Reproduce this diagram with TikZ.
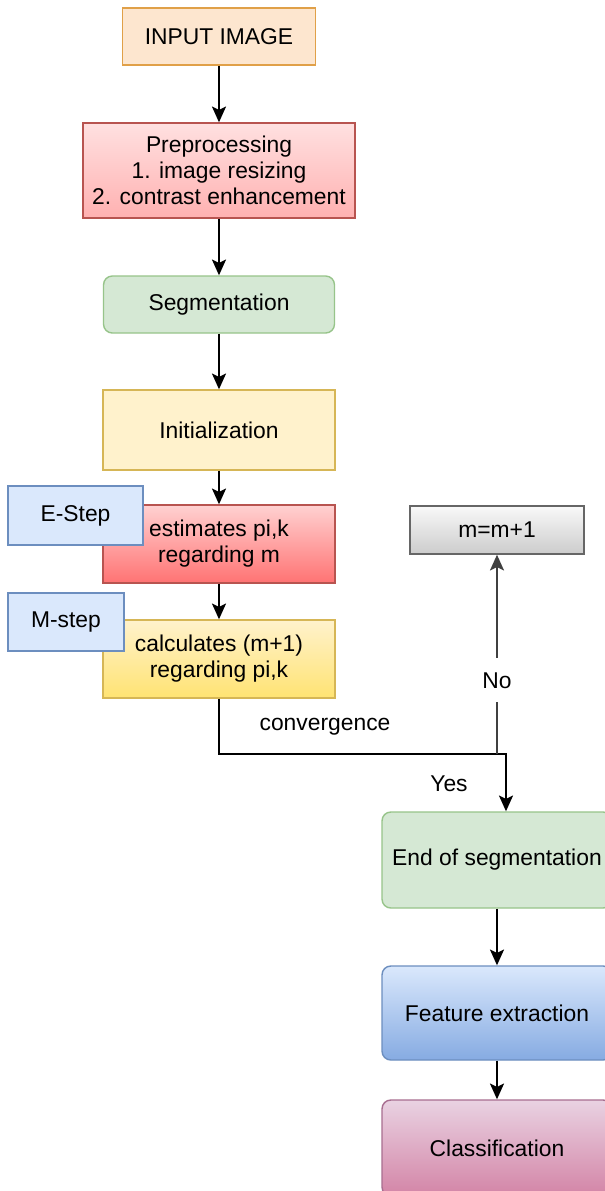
\documentclass[tikz,border=0pt]{standalone}
\usepackage{fontspec}
\setmainfont{Liberation Sans}
\usetikzlibrary{arrows.meta}

\definecolor{peachfill}{HTML}{FDE6CF}
\definecolor{peachline}{HTML}{E0A048}
\definecolor{redline}{HTML}{B85450}
\definecolor{greenfill}{HTML}{D5E8D4}
\definecolor{greenline}{HTML}{97C48A}
\definecolor{yellowfill}{HTML}{FFF2CC}
\definecolor{yellowline}{HTML}{D6B656}
\definecolor{bluefill}{HTML}{DAE8FC}
\definecolor{bluedeep}{HTML}{86ABE2}
\definecolor{blueline}{HTML}{6C8EBF}
\definecolor{pinkfill}{HTML}{E9D2E2}
\definecolor{pinkdeep}{HTML}{D384A6}
\definecolor{pinkline}{HTML}{A86E90}

\begin{document}
\begin{tikzpicture}[x=0.02cm,y=-0.02cm,>={Stealth[length=9pt,width=8pt,inset=2pt]},
  flowbox/.style={draw,line width=0.8pt,align=center,inner sep=0pt,
    font=\fontsize{13}{14.8}\selectfont},
  roundbox/.style={flowbox,rounded corners=5pt},
  stepbox/.style={flowbox,fill=bluefill,draw=blueline},
  link/.style={->,line width=1.1pt}]

\fill[white] (0,0) rectangle (605,1191);
\useasboundingbox (0,0) rectangle (605,1191);

%--------------------
% main column
%--------------------
\node[flowbox,fill=peachfill,draw=peachline,minimum width=3.86cm,minimum height=1.14cm]
  (input) at (219,36.5) {INPUT IMAGE};
\node[flowbox,top color=red!12,bottom color=red!25!pink!70,draw=redline,
  minimum width=5.44cm,minimum height=1.9cm]
  (prep) at (219,170.5) {Preprocessing\\1. image resizing\\2. contrast enhancement};
\node[roundbox,fill=greenfill,draw=greenline,minimum width=4.62cm,minimum height=1.14cm]
  (seg) at (219,304.5) {Segmentation};
\node[flowbox,fill=yellowfill,draw=yellowline,minimum width=4.64cm,minimum height=1.6cm]
  (init) at (219,430) {Initialization};

% E-step and M-step
\node[flowbox,top color=red!18,bottom color=red!55!white,draw=redline,
  minimum width=4.64cm,minimum height=1.56cm]
  (est) at (219,544) {estimates pi,k\\regarding m};
\node[stepbox,minimum width=2.7cm,minimum height=1.18cm] (estep) at (75.5,515.5) {E-Step};

\node[flowbox,top color=yellowfill,bottom color=yellow!60!orange!55,draw=yellowline,
  minimum width=4.64cm,minimum height=1.56cm]
  (calc) at (219,659) {calculates (m+1)\\regarding pi,k};
\node[stepbox,minimum width=2.32cm,minimum height=1.16cm] (mstep) at (66,622) {M-step};

% update
\node[flowbox,top color=gray!5,bottom color=gray!40,draw=gray!80!black,
  minimum width=3.48cm,minimum height=0.96cm]
  (upd) at (497,530) {m=m+1};

%--------------------
% right column
%--------------------
\node[roundbox,fill=greenfill,draw=greenline,minimum width=4.6cm,minimum height=1.92cm]
  (endseg) at (497,860) {End of segmentation};
\node[roundbox,top color=bluefill,bottom color=bluedeep,draw=blueline,
  minimum width=4.6cm,minimum height=1.88cm]
  (feat) at (497,1013) {Feature extraction};
\node[roundbox,top color=pinkfill,bottom color=pinkdeep,draw=pinkline,
  minimum width=4.6cm,minimum height=1.92cm]
  (cls) at (497,1148) {Classification};

% arrows
\draw[link] (input) -- (prep);
\draw[link] (prep) -- (seg);
\draw[link] (seg) -- (init);
\draw[link] (init) -- (est);
\draw[link] (est) -- (calc);

% convergence test
\coordinate (bend) at (219,754);
\coordinate (split) at (497,754);
\coordinate (turn) at (506,754);
\draw[link] (calc.south) -- (bend) -- (turn) -- (turn |- endseg.north);
\node[font=\fontsize{13}{14.8}\selectfont] (conv) at (325,727) {convergence};
\node[font=\fontsize{13}{14.8}\selectfont] (yes) at (449,784) {Yes};

\draw[link,black!75] (split) -- (upd.south)
  node[pos=0.37,fill=white,text=black,inner ysep=8pt,font=\fontsize{13}{14.8}\selectfont] (no) {No};

\draw[link] (endseg) -- (feat);
\draw[link] (feat) -- (cls);

\end{tikzpicture}
\end{document}
